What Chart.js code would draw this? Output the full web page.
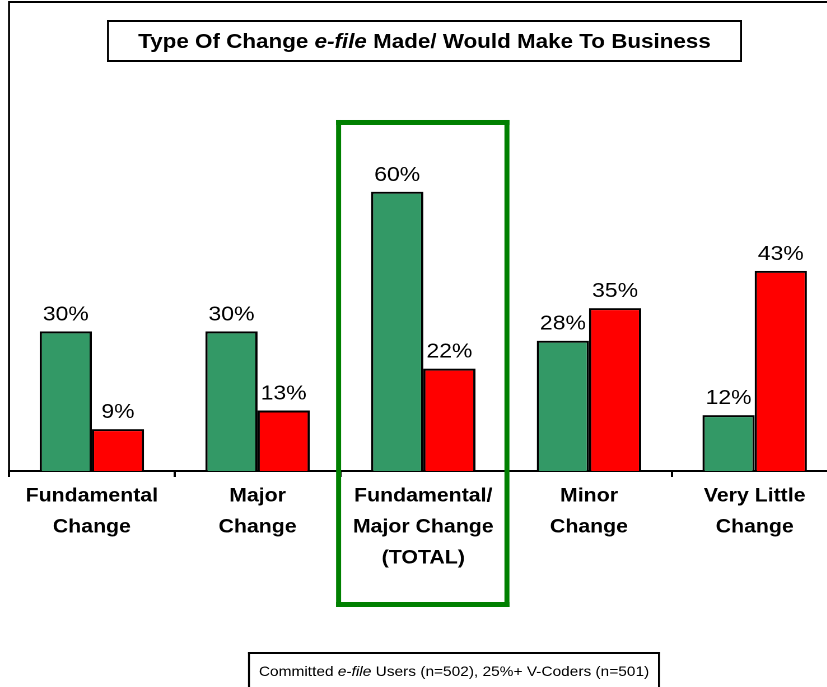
<!DOCTYPE html>
<html><head><meta charset="utf-8">
<script src="https://cdn.jsdelivr.net/npm/chart.js@4.4.1/dist/chart.umd.min.js"></script>
<style>
html,body{margin:0;padding:0;background:#fff;overflow:hidden;width:827px;height:687px;}
#wrap{position:absolute;left:0;top:0;width:749px;height:687px;transform:scaleX(1.12);transform-origin:0 0;}
canvas{display:block;}
</style></head><body>
<div id="wrap"><canvas id="c" width="749" height="687"></canvas></div>
<script>
// ---- data ----
const categories = [["Fundamental","Change"],["Major","Change"],["Fundamental/","Major Change","(TOTAL)"],["Minor","Change"],["Very Little","Change"]];
const committedUsers = [30, 30, 60, 28, 12];
const vCoders = [9, 13, 22, 35, 43];
const titleParts = [["Type Of Change ", false], ["e-file", true], [" Made/ Would Make To Business", false]];
const noteParts = [["Committed ", false], ["e-file", true], [" Users (n=502), 25%+ V-Coders (n=501)", false]];
const highlightIndex = 2;

const SX = 1.12; // horizontal stretch of the whole picture
const FONT = '"Liberation Sans", Arial, sans-serif';

function fr(ctx, x, y, w, h) { ctx.fillRect(x / SX, y, w / SX, h); }
function outline(ctx, x0, y0, x1, y1, lw, color) {
  ctx.fillStyle = color;
  fr(ctx, x0, y0, x1 - x0, lw);
  fr(ctx, x0, y1 - lw, x1 - x0, lw);
  fr(ctx, x0, y0, lw, y1 - y0);
  fr(ctx, x1 - lw, y0, lw, y1 - y0);
}
function drawParts(ctx, parts, cxFinal, y, size, bold) {
  let total = 0;
  const widths = parts.map(p => {
    ctx.font = (p[1] ? 'italic ' : '') + (bold ? 'bold ' : '') + size + 'px ' + FONT;
    const w = ctx.measureText(p[0]).width; total += w; return w;
  });
  let x = cxFinal / SX - total / 2;
  ctx.textAlign = 'left'; ctx.textBaseline = 'alphabetic'; ctx.fillStyle = '#000';
  parts.forEach((p, i) => {
    ctx.font = (p[1] ? 'italic ' : '') + (bold ? 'bold ' : '') + size + 'px ' + FONT;
    ctx.fillText(p[0], x, y); x += widths[i];
  });
}

const decor = {
  id: 'decor',
  afterDraw(chart) {
    const ctx = chart.ctx, a = chart.chartArea;
    const xs = chart.scales.x, ys = chart.scales.y;
    ctx.save();
    // frame: left and top
    ctx.fillStyle = '#000';
    ctx.fillRect(a.left - 1 / SX, a.top, 2 / SX, a.bottom - a.top + 1);
    ctx.fillRect(a.left, a.top, a.right - a.left + 20, 2);
    // data labels
    ctx.font = '20.5px ' + FONT; ctx.fillStyle = '#000';
    ctx.textAlign = 'center'; ctx.textBaseline = 'alphabetic';
    chart.data.datasets.forEach((ds, di) => {
      chart.getDatasetMeta(di).data.forEach((bar, i) => {
        ctx.fillText(ds.data[i] + '%', bar.x, bar.y - 11);
      });
    });
    // highlight box around the total category
    const cw = (a.right - a.left) / categories.length;
    const cx = xs.getPixelForValue(highlightIndex) * SX;
    const half = cw * SX * 0.52;
    outline(ctx, cx - half - 1, ys.getPixelForValue(75) - 2, cx + half, a.bottom + 136, 5, '#008000');
    // title box
    outline(ctx, 107, 20, 742, 62, 2, '#000');
    drawParts(ctx, titleParts, 424.5, 48, 20, true);
    // footnote box
    outline(ctx, 248, 652, 660, 700, 2, '#000');
    drawParts(ctx, noteParts, 454, 676, 13.8, false);
    ctx.restore();
  }
};

new Chart(document.getElementById('c'), {
  type: 'bar',
  data: {
    labels: categories,
    datasets: [
      { label: 'Committed e-file Users (n=502)', data: committedUsers, backgroundColor: '#339966', borderColor: '#000', borderWidth: 2, categoryPercentage: 0.63, barPercentage: 1 },
      { label: '25%+ V-Coders (n=501)', data: vCoders, backgroundColor: '#FF0000', borderColor: '#000', borderWidth: 2, categoryPercentage: 0.63, barPercentage: 1 }
    ]
  },
  options: {
    responsive: false,
    animation: false,
    devicePixelRatio: 2,
    layout: { padding: { left: 8.04, top: 1, right: 1.2, bottom: 0 } },
    plugins: { legend: { display: false }, tooltip: { enabled: false }, title: { display: false } },
    scales: {
      y: { display: false, min: 0, max: 101 },
      x: {
        offset: true,
        grid: { display: true, drawOnChartArea: false, drawTicks: true, tickLength: 6, lineWidth: 2, color: '#000', offset: true },
        border: { display: true, color: '#000', width: 2 },
        ticks: { font: { family: FONT, size: 19, weight: 'bold', lineHeight: 1.63 }, color: '#000', padding: 4, maxRotation: 0, autoSkip: false },
        afterFit: s => { s.height = 216; }
      }
    }
  },
  plugins: [decor]
});
</script>
</body></html>
